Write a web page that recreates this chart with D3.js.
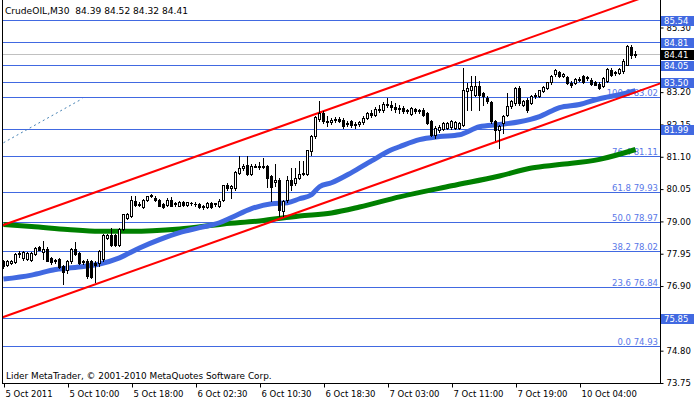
<!DOCTYPE html>
<html><head><meta charset="utf-8">
<script src="https://cdn.jsdelivr.net/npm/d3@7"></script>
<style>
html,body{margin:0;padding:0;background:#fff;}
svg{display:block;}
text{font-family:"DejaVu Sans",Verdana,sans-serif;}
</style></head><body>
<svg id="c" width="700" height="402"></svg>
<script>
const titleText = "CrudeOIL,M30  84.39 84.52 84.32 84.41";
const copyrightText = "Lider MetaTrader, \u00A9 2001-2010 MetaQuotes Software Corp.";

const opens  = [77.69,77.56,77.63,77.66,77.92,77.78,77.76,77.74,77.91,78.16,77.98,78.10,77.78,77.69,77.77,77.53,77.42,77.71,78.10,77.96,77.67,77.71,77.69,77.62,77.62,77.75,78.45,78.53,78.53,78.23,78.74,79.10,79.17,79.66,79.56,79.45,79.69,79.81,79.75,79.69,79.56,79.51,79.67,79.55,79.50,79.61,79.52,79.59,79.56,79.55,79.45,79.45,79.59,79.55,79.48,79.69,80.18,80.07,80.07,80.56,80.72,80.82,80.54,80.80,80.76,80.78,80.78,80.45,80.26,80.34,79.32,79.69,80.34,80.24,80.40,80.52,80.54,81.28,81.77,82.30,82.51,82.26,82.22,82.28,82.30,82.29,82.14,82.24,82.10,82.15,82.20,82.35,82.50,82.45,82.65,82.60,82.80,82.75,82.70,82.62,82.67,82.56,82.48,82.62,82.56,82.61,82.51,82.23,81.78,81.95,82.00,82.03,82.05,82.02,82.03,82.13,83.21,83.26,83.10,83.39,83.15,82.99,82.85,82.23,81.96,82.18,82.45,82.72,82.83,83.32,82.78,82.94,82.83,83.05,83.05,83.21,83.32,83.50,83.78,83.83,83.72,83.67,83.48,83.48,83.61,83.70,83.64,83.59,83.50,83.46,83.39,83.53,83.91,83.80,83.80,83.86,84.07,84.66,84.39];
const highs  = [77.74,77.72,77.73,77.95,78.03,78.02,78.00,77.99,78.16,78.19,78.34,78.14,77.82,77.76,77.80,77.58,77.73,78.12,78.31,78.00,77.74,77.76,77.74,77.70,78.04,78.56,78.58,78.77,78.58,78.78,79.23,79.25,79.80,79.80,79.62,79.72,79.82,79.89,79.80,79.72,79.58,79.73,79.78,79.60,79.66,79.66,79.63,79.63,79.60,79.58,79.52,79.62,79.62,79.59,79.70,80.18,80.22,80.16,80.62,81.12,80.85,81.10,80.85,80.85,80.90,81.05,80.82,80.48,80.85,80.38,79.68,80.45,80.72,80.72,80.94,80.94,81.32,81.79,82.40,82.88,82.58,82.40,82.35,82.36,82.38,82.34,82.23,82.28,82.20,82.25,82.40,82.55,82.60,82.70,82.78,82.85,82.98,82.88,82.82,82.75,82.72,82.64,82.70,82.66,82.62,82.66,82.55,82.27,82.08,82.10,82.22,82.22,82.27,82.24,82.22,83.97,83.48,83.70,83.72,83.53,83.18,83.05,82.90,82.29,82.12,82.45,83.15,82.92,83.35,83.37,82.92,82.99,83.08,83.15,83.26,83.37,83.52,83.75,83.95,83.87,83.80,83.72,83.55,83.64,83.66,83.75,83.72,83.64,83.55,83.50,83.67,83.97,83.96,83.88,83.96,84.25,84.72,84.72,84.52];
const lows   = [77.47,77.52,77.60,77.63,77.84,77.74,77.72,77.70,77.88,78.05,77.77,77.69,77.60,77.64,77.48,76.96,77.30,77.62,77.90,77.60,77.60,77.15,77.14,77.01,77.55,77.70,78.40,78.20,78.20,78.18,78.70,79.05,79.12,79.48,79.48,79.42,79.66,79.78,79.66,79.48,79.43,79.48,79.47,79.50,79.47,79.50,79.49,79.52,79.50,79.42,79.40,79.42,79.43,79.50,79.45,79.66,80.00,79.75,80.02,80.52,80.65,80.50,80.50,80.74,80.70,80.72,80.11,79.64,80.13,79.15,79.15,79.60,80.02,80.18,80.36,80.48,80.50,81.15,81.70,82.25,82.18,82.07,82.15,82.20,82.22,82.03,82.07,82.05,82.02,82.08,82.15,82.30,82.38,82.40,82.55,82.55,82.70,82.60,82.55,82.50,82.51,82.52,82.45,82.52,82.50,82.42,82.15,81.75,81.69,81.90,81.96,81.98,82.00,81.98,81.99,82.08,82.61,82.61,83.05,82.61,82.78,82.83,82.18,81.64,81.37,81.86,82.40,82.68,82.78,82.78,82.74,82.55,82.80,83.00,83.02,83.18,83.28,83.46,83.72,83.66,83.68,83.45,83.34,83.45,83.55,83.48,83.58,83.42,83.40,83.30,83.36,83.50,83.70,83.75,83.76,83.82,84.05,84.30,84.32];
const closes = [77.53,77.69,77.69,77.91,77.97,77.98,77.97,77.97,78.13,78.07,78.09,77.71,77.66,77.72,77.51,77.35,77.71,78.10,77.94,77.64,77.69,77.21,77.18,77.58,78.02,78.53,78.54,78.23,78.23,78.75,79.21,79.21,79.67,79.51,79.51,79.69,79.80,79.83,79.69,79.50,79.46,79.69,79.50,79.57,79.61,79.52,79.61,79.57,79.55,79.45,79.50,79.59,79.46,79.57,79.66,80.16,80.07,80.13,80.60,80.72,80.80,80.54,80.80,80.76,80.78,80.76,80.40,80.11,80.34,79.37,79.64,80.32,80.18,80.40,80.54,80.56,81.30,81.77,82.38,82.50,82.24,82.22,82.28,82.30,82.25,82.07,82.18,82.10,82.15,82.20,82.35,82.50,82.45,82.65,82.60,82.80,82.75,82.70,82.62,82.66,82.56,82.61,82.67,82.56,82.59,82.45,82.18,81.80,82.03,82.05,82.18,82.18,82.23,82.20,82.18,83.26,83.32,83.37,83.37,83.10,83.05,82.88,82.23,81.96,82.09,82.42,82.72,82.88,83.32,82.83,82.88,82.61,83.05,83.10,83.24,83.35,83.50,83.72,83.90,83.70,83.76,83.48,83.40,83.61,83.59,83.50,83.67,83.46,83.43,83.32,83.64,83.93,83.75,83.85,83.93,84.21,84.67,84.39,84.41];

const timeTickBars   = [0,16,32,48,64,80,96,112,128,144];
const timeTickLabels = ["5 Oct 2011","5 Oct 10:00","5 Oct 18:00","6 Oct 02:30","6 Oct 10:30","6 Oct 18:30","7 Oct 03:00","7 Oct 11:00","7 Oct 19:00","10 Oct 04:00"];
// tick labels that are visible on the price scale (75.85 and 84.25 lie under price boxes)
const priceTicks = [73.75,74.80,76.90,77.95,79.00,80.05,81.10,82.15,83.20,85.30];

const levelPrices = [85.54,84.81,84.05,83.50,81.99,75.85];
const bidPrice = 84.41;
const fibRatios = ["0.0","23.6","38.2","50.0","61.8","76.4","100.0"];
const fibPrices = [74.93,76.84,78.02,78.97,79.93,81.11,83.02];

const maBlueBars = [0,7,13,20,24,29,34,39,44,49,54,57,62,67,71,74,77,79,82,87,92,97,99,104,109,114,119,124,129,134,139,144,149,154,158];
const maBlueVals = [77.11,77.24,77.42,77.52,77.60,77.80,78.12,78.39,78.62,78.78,78.94,79.11,79.40,79.56,79.59,79.72,79.85,80.11,80.24,80.57,80.95,81.31,81.41,81.64,81.74,81.80,82.06,82.13,82.22,82.39,82.68,82.78,82.97,83.10,83.23];
const maGreenBars = [0,7,16,24,32,44,55,64,74,82,89,99,112,124,132,139,149,158];
const maGreenVals = [78.88,78.82,78.72,78.66,78.66,78.74,78.90,79.00,79.16,79.26,79.45,79.78,80.14,80.46,80.72,80.83,81.00,81.32];

const channelBars = [0,150];
const channelUpperVals = [78.87,85.80];
const channelLowerVals = [75.88,82.81];
const dotBars = [0,19.7];
const dotVals = [81.54,82.97];

const L = 2, R = 660, T = 0, B = 383;
const svg = d3.select("#c");

const x = d3.scaleLinear().domain([0,158]).range([3.5,635.5]);
const y = d3.scaleLinear().domain([73.75,85.30]).range([382.5,27]);
const crisp = v => Math.round(v) + 0.5;

svg.append("defs").append("clipPath").attr("id","plot")
  .append("rect").attr("x",L+1).attr("y",T).attr("width",R-L-1).attr("height",B-T);

const plot = svg.append("g").attr("clip-path","url(#plot)");

plot.append("line").attr("x1",L).attr("x2",R).attr("y1",crisp(y(bidPrice))).attr("y2",crisp(y(bidPrice)))
  .attr("stroke","#c0c0c0").attr("stroke-width",1);

plot.selectAll("line.lvl").data(levelPrices.concat(fibPrices)).enter().append("line")
  .attr("class","lvl").attr("x1",L).attr("x2",R)
  .attr("y1",d=>crisp(y(d))).attr("y2",d=>crisp(y(d)))
  .attr("stroke","#4169e1").attr("stroke-width",1);

plot.selectAll("text.fib").data(fibPrices).enter().append("text")
  .attr("class","fib").attr("x",658).attr("y",d=>Math.round(y(d))-1.5)
  .attr("text-anchor","end").attr("font-size","8.5px").attr("fill","#5a78e8")
  .text((d,i)=>fibRatios[i]+" "+d.toFixed(2));

plot.append("path")
  .attr("d", d3.line().x(d=>x(d[0])).y(d=>y(d[1]))(dotBars.map((b,i)=>[b,dotVals[i]])))
  .attr("stroke","#4682b4").attr("stroke-width",1).attr("stroke-dasharray","2,3").attr("fill","none");

const maLine = d3.line().x(d=>x(d[0])).y(d=>y(d[1])).curve(d3.curveMonotoneX);
plot.append("path").attr("d", maLine(maGreenBars.map((b,i)=>[b,maGreenVals[i]])))
  .attr("stroke","#008000").attr("stroke-width",5).attr("fill","none");
plot.append("path").attr("d", maLine(maBlueBars.map((b,i)=>[b,maBlueVals[i]])))
  .attr("stroke","#4169e1").attr("stroke-width",5).attr("fill","none");

function extLine(vals){
  const slope = (vals[1]-vals[0])/(channelBars[1]-channelBars[0]);
  const b0 = x.invert(L), b1 = x.invert(R+5);
  return [[b0, vals[0]+slope*(b0-channelBars[0])],[b1, vals[0]+slope*(b1-channelBars[0])]];
}
const lin = d3.line().x(d=>x(d[0])).y(d=>y(d[1]));
[channelUpperVals, channelLowerVals].forEach(v=>{
  plot.append("path").attr("d", lin(extLine(v))).attr("stroke","#ff0000").attr("stroke-width",2).attr("fill","none");
});

const cg = plot.append("g");
d3.range(opens.length).forEach(i=>{
  const cx = Math.floor(x(i));
  const o = opens[i], c = closes[i];
  cg.append("line").attr("x1",cx+0.5).attr("x2",cx+0.5)
    .attr("y1",Math.round(y(highs[i]))).attr("y2",Math.round(y(lows[i]))+1)
    .attr("stroke","#000").attr("stroke-width",1);
  const top = Math.round(y(Math.max(o,c))), bot = Math.round(y(Math.min(o,c)));
  if (bot - top < 1) {
    cg.append("line").attr("x1",cx-1).attr("x2",cx+2).attr("y1",top+0.5).attr("y2",top+0.5)
      .attr("stroke","#000").attr("stroke-width",1);
  } else {
    cg.append("rect").attr("x",cx-0.5).attr("y",top+0.5).attr("width",2).attr("height",bot-top)
      .attr("fill", c>=o ? "#fff" : "#000").attr("stroke","#000").attr("stroke-width",1);
  }
});

svg.append("line").attr("x1",L+0.5).attr("x2",L+0.5).attr("y1",0).attr("y2",B+1).attr("stroke","#000");
svg.append("line").attr("x1",L).attr("x2",R+1).attr("y1",B+0.5).attr("y2",B+0.5).attr("stroke","#000");
svg.append("line").attr("x1",R+0.5).attr("x2",R+0.5).attr("y1",0).attr("y2",B+1).attr("stroke","#000");

const ay = svg.append("g").attr("transform",`translate(${R+0.5},0.5)`)
  .call(d3.axisRight(y).tickValues(priceTicks).tickSize(3).tickPadding(3).tickFormat(d3.format(".2f")));
ay.select(".domain").remove();
ay.selectAll("text").attr("font-size","8.5px").attr("font-family","DejaVu Sans, Verdana, sans-serif").attr("fill","#000");
ay.selectAll("line").attr("stroke","#000");

const ax = svg.append("g").attr("transform",`translate(0.5,${B+0.5})`)
  .call(d3.axisBottom(x).tickValues(timeTickBars).tickSize(4).tickFormat((d,i)=>timeTickLabels[i]));
ax.select(".domain").remove();
ax.selectAll("line").attr("stroke","#000");
ax.selectAll("text").attr("text-anchor","start").attr("x",1).attr("y",13.5).attr("dy",0)
  .attr("font-size","8.5px").attr("font-family","DejaVu Sans, Verdana, sans-serif").attr("fill","#000");

function priceBox(p, fill){
  const yc = Math.round(y(p));
  svg.append("rect").attr("x",661).attr("y",yc-4).attr("width",33).attr("height",10).attr("fill",fill);
  svg.append("text").attr("x",664).attr("y",yc+1).attr("dy","0.35em")
    .attr("font-size","8.5px").attr("fill","#fff").text(p.toFixed(2));
}
levelPrices.forEach(p=>priceBox(p,"#4169e1"));
priceBox(bidPrice,"#000");

svg.append("text").attr("x",5).attr("y",13.5).attr("font-size","9.1px").attr("fill","#000")
  .style("white-space","pre").attr("xml:space","preserve").text(titleText);
svg.append("text").attr("x",6).attr("y",379).attr("font-size","8.9px").attr("fill","#000").text(copyrightText);
</script>
</body></html>
